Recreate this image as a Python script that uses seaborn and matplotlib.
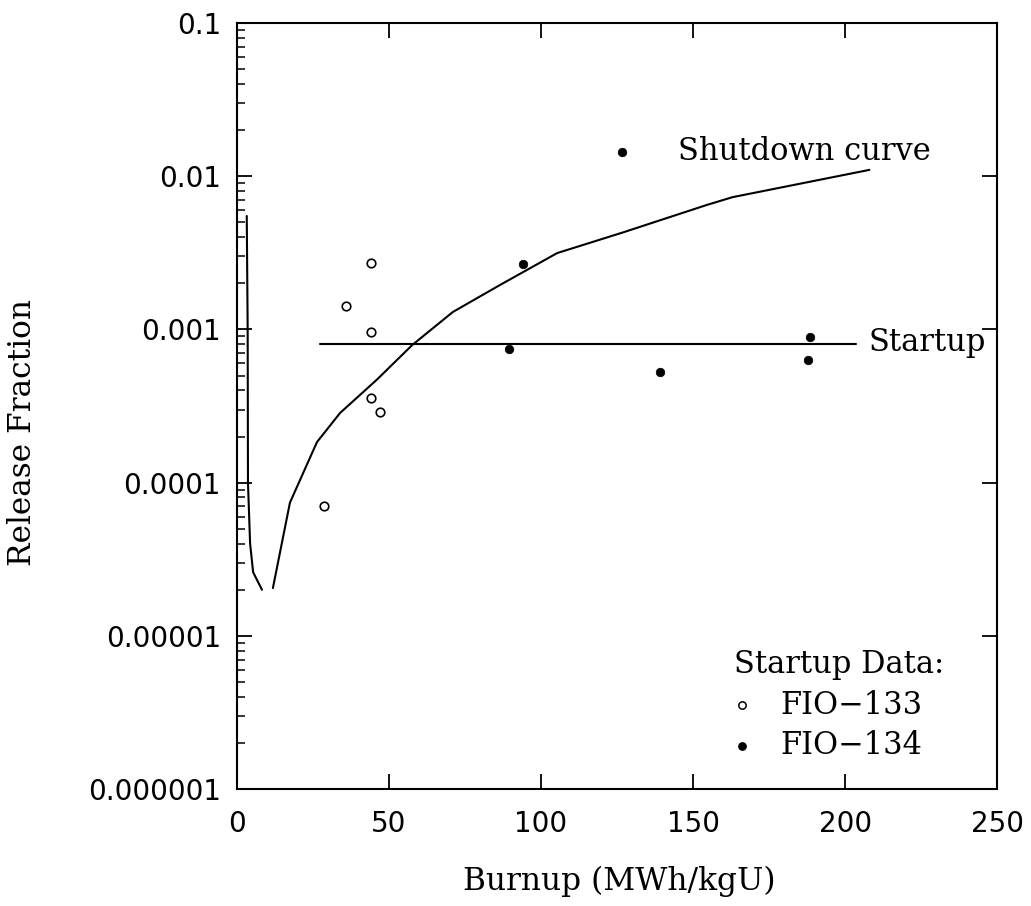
import numpy as np
import pandas as pd
import matplotlib
matplotlib.use("Agg")
import matplotlib.pyplot as plt
import seaborn as sns

# ---- data -------------------------------------------------------------
# Shutdown release curve (two pieces; the dip below 2e-5 is not drawn)
shutdown_x_a = [3.2, 3.5, 3.6, 4.3, 5.3, 8.2]
shutdown_y_a = [5.5e-3, 1.0e-3, 1.0e-4, 4.0e-5, 2.6e-5, 2.0e-5]
shutdown_x_b = [11.8, 17.4, 26.3, 33.9, 46.0, 57.6, 71.0, 86.5, 105.3,
                127.0, 154.6, 163.0, 208.0]
shutdown_y_b = [2.05e-5, 7.4e-5, 1.84e-4, 2.85e-4, 4.7e-4, 7.9e-4, 1.3e-3,
                1.95e-3, 3.15e-3, 4.3e-3, 6.5e-3, 7.3e-3, 1.1e-2]

# Startup release level
startup_x = [27.3, 203.5]
startup_level = 8.0e-4

# Startup measurements
fio133_x = [44.1, 35.8, 44.1, 44.2, 47.1, 28.6]
fio133_y = [2.71e-3, 1.43e-3, 9.57e-4, 3.55e-4, 2.89e-4, 7.03e-5]
fio134_x = [94.0, 126.7, 89.6, 139.1, 188.6, 187.7]
fio134_y = [2.67e-3, 1.44e-2, 7.45e-4, 5.25e-4, 8.95e-4, 6.34e-4]

x_ticks = [0, 50, 100, 150, 200, 250]
y_ticks = [1e-6, 1e-5, 1e-4, 1e-3, 1e-2, 1e-1]
y_tick_labels = ["0.000001", "0.00001", "0.0001", "0.001", "0.01", "0.1"]

# ---- tables -----------------------------------------------------------
curve = pd.DataFrame({
    "burnup": shutdown_x_a + shutdown_x_b,
    "fraction": shutdown_y_a + shutdown_y_b,
    "piece": [0] * len(shutdown_x_a) + [1] * len(shutdown_x_b),
})
startup = pd.DataFrame({"burnup": startup_x,
                        "fraction": [startup_level] * len(startup_x)})
f133 = pd.DataFrame({"burnup": fio133_x, "fraction": fio133_y})
f134 = pd.DataFrame({"burnup": fio134_x, "fraction": fio134_y})

# ---- figure -----------------------------------------------------------
sns.set_theme(style="ticks")
plt.rcParams["font.family"] = ["DejaVu Sans"]

fig = plt.figure(figsize=(10.31, 9.06), dpi=100)
ax = fig.add_axes([0.2299, 0.1291, 0.7372, 0.8455])
ax.set_yscale("log")

sns.lineplot(data=curve, x="burnup", y="fraction", units="piece",
             estimator=None, sort=False, color="black", linewidth=1.5, ax=ax)
sns.lineplot(data=startup, x="burnup", y="fraction", estimator=None,
             color="black", linewidth=1.5, ax=ax)
sns.scatterplot(data=f133, x="burnup", y="fraction", marker="o", s=38,
                facecolor="white", edgecolor="black", linewidth=1.2, ax=ax,
                zorder=3)
sns.scatterplot(data=f134, x="burnup", y="fraction", marker="o", s=38,
                color="black", edgecolor="black", linewidth=0.5, ax=ax,
                zorder=3)

ax.set_xlim(0, 250)
ax.set_ylim(1e-6, 1e-1)
ax.set_xticks(x_ticks)
ax.set_xticklabels([str(v) for v in x_ticks])
ax.set_yticks(y_ticks)
ax.set_yticklabels(y_tick_labels)
ax.yaxis.set_minor_locator(matplotlib.ticker.LogLocator(base=10, subs=np.arange(2, 10)))
ax.yaxis.set_minor_formatter(matplotlib.ticker.NullFormatter())

for side in ["left", "right", "top", "bottom"]:
    ax.spines[side].set_visible(True)
    ax.spines[side].set_linewidth(1.5)
    ax.spines[side].set_color("black")

ax.tick_params(axis="both", which="major", direction="in", length=10.5,
               width=1.3, color="black", top=True, right=True,
               labelsize=20, labelcolor="black")
ax.tick_params(axis="x", which="major", pad=15)
ax.tick_params(axis="y", which="major", pad=11.5)
ax.tick_params(axis="y", which="minor", direction="in", length=5.5,
               width=1.1, left=True, right=False, color="black")
ax.tick_params(axis="x", which="minor", bottom=False, top=False)

serif = ["DejaVu Serif"]
ax.set_xlabel("Burnup (MWh/kgU)", fontsize=22.5, family=serif, va="center",
              color="black")
ax.xaxis.set_label_coords(0.5026, -0.1201)
ax.set_ylabel("Release Fraction", fontsize=22.5, family=serif, va="center",
              color="black")
ax.yaxis.set_label_coords(-0.2816, 0.4648)

# curve annotations
ax.text(145.1, 0.01276, "Shutdown curve", fontsize=22, family=serif,
        ha="left", va="baseline", color="black")
ax.text(207.6, 7.26e-4, "Startup", fontsize=22, family=serif,
        ha="left", va="baseline", color="black")

# key for the measured points
ax.text(0.654, 0.1518, "Startup Data:", transform=ax.transAxes, fontsize=22,
        family=serif, ha="left", va="baseline", color="black")
ax.scatter([0.6645], [0.1097], transform=ax.transAxes, s=28, marker="o",
           facecolor="white", edgecolor="black", linewidth=1.1, clip_on=False)
ax.text(0.7145, 0.0975, "FIO\u2212133", transform=ax.transAxes, fontsize=22,
        family=serif, ha="left", va="baseline", color="black")
ax.scatter([0.6645], [0.0561], transform=ax.transAxes, s=28, marker="o",
           color="black", clip_on=False)
ax.text(0.7145, 0.0457, "FIO\u2212134", transform=ax.transAxes, fontsize=22,
        family=serif, ha="left", va="baseline", color="black")

fig.savefig("out.png", dpi=100, facecolor="white")
